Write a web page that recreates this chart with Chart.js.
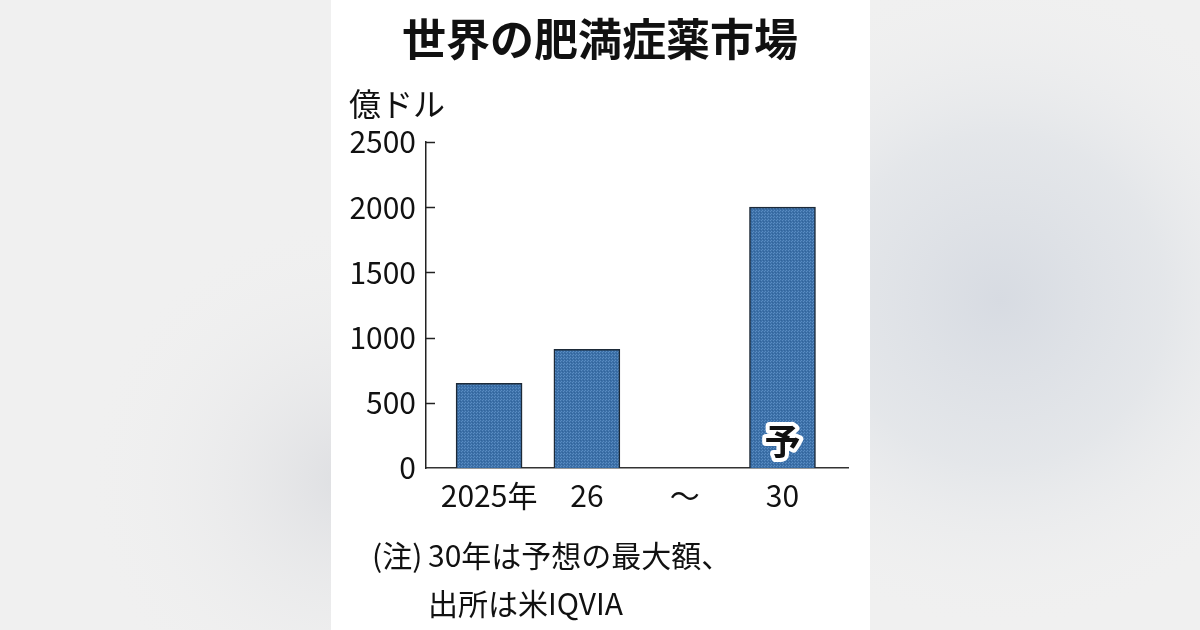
<!DOCTYPE html>
<html>
<head>
<meta charset="utf-8">
<script src="https://cdn.jsdelivr.net/npm/chart.js@4.4.1/dist/chart.umd.min.js"></script>
<style>
  html, body { margin: 0; padding: 0; background: #efefef; }
  canvas { display: block; }
</style>
</head>
<body>
<canvas id="chart" width="1200" height="630"></canvas>
<script>
var categories = ['2025年', '26', '〜', '30'];
var values = [650, 910, null, 2000];
var barNotes = [null, null, null, '予'];
var yTicks = [0, 500, 1000, 1500, 2000, 2500];

var titleText = '世界の肥満症薬市場';
var unitText = '億ドル';
var noteLines = ['30年は予想の最大額、', '出所は米IQVIA'];

Chart.defaults.font.family = '"Noto Sans CJK JP", "Noto Sans", sans-serif';
Chart.defaults.color = '#111';

// dotted blue fill like the print texture
function barPattern() {
  var c = document.createElement('canvas');
  c.width = 3; c.height = 3;
  var g = c.getContext('2d');
  g.fillStyle = '#3c70a8';
  g.fillRect(0, 0, 3, 3);
  g.fillStyle = '#5a8cc2';
  g.fillRect(0, 0, 1, 1);
  g.fillRect(2, 1, 1, 1);
  g.fillStyle = '#32649b';
  g.fillRect(1, 2, 1, 1);
  return g.createPattern(c, 'repeat');
}

var decor = {
  id: 'decor',
  beforeDraw: function(chart) {
    var ctx = chart.ctx;
    ctx.save();
    ctx.fillStyle = '#f0f0f0';
    ctx.fillRect(0, 0, 1200, 630);
    var g1 = ctx.createRadialGradient(1000, 300, 0, 1000, 300, 330);
    g1.addColorStop(0, 'rgba(215,219,226,1)');
    g1.addColorStop(0.5, 'rgba(225,228,232,0.8)');
    g1.addColorStop(1, 'rgba(240,240,240,0)');
    ctx.fillStyle = g1;
    ctx.fillRect(860, 0, 340, 630);
    var g2 = ctx.createRadialGradient(345, 480, 0, 345, 480, 260);
    g2.addColorStop(0, 'rgba(222,223,226,1)');
    g2.addColorStop(1, 'rgba(240,240,240,0)');
    ctx.fillStyle = g2;
    ctx.fillRect(0, 0, 340, 630);
    ctx.fillStyle = '#ffffff';
    ctx.fillRect(331, 0, 539, 630);

    ctx.fillStyle = '#111';
    ctx.textBaseline = 'middle';
    ctx.textAlign = 'center';
    ctx.font = 'bold 44px "Noto Sans CJK JP"';
    ctx.fillText(titleText, 600, 39);
    ctx.textAlign = 'left';
    ctx.font = '32px "Noto Sans CJK JP"';
    ctx.fillText(unitText, 349, 104);
    ctx.font = '30px "Noto Sans CJK JP"';
    ctx.fillText('(注)', 372, 556);
    ctx.fillText(noteLines[0], 428, 556);
    ctx.fillText(noteLines[1], 428, 604);
    ctx.restore();
  },
  afterDraw: function(chart) {
    var ctx = chart.ctx;
    var y = chart.scales.y;
    ctx.save();
    ctx.strokeStyle = '#222';
    ctx.lineWidth = 1.5;
    yTicks.forEach(function(v) {
      if (v === 0) return;
      var py = Math.round(y.getPixelForValue(v)) + 0.5;
      ctx.beginPath();
      ctx.moveTo(y.right, py);
      ctx.lineTo(y.right + 9, py);
      ctx.stroke();
    });
    var meta = chart.getDatasetMeta(0);
    ctx.font = 'bold 36px "Noto Sans CJK JP"';
    ctx.textAlign = 'center';
    ctx.textBaseline = 'middle';
    ctx.lineJoin = 'round';
    barNotes.forEach(function(t, i) {
      if (!t) return;
      var bar = meta.data[i];
      ctx.strokeStyle = '#fff';
      ctx.lineWidth = 8;
      ctx.strokeText(t, bar.x, bar.base - 27);
      ctx.fillStyle = '#111';
      ctx.fillText(t, bar.x, bar.base - 27);
    });
    ctx.restore();
  }
};

var chart = new Chart('chart', {
  type: 'bar',
  data: {
    datasets: [{
      data: values.map(function(v, i) { return {x: i, y: v}; }),
      backgroundColor: barPattern(),
      borderColor: '#1d2a38',
      borderWidth: 1.5,
      barThickness: 66
    }]
  },
  options: {
    responsive: false,
    animation: false,
    devicePixelRatio: 1,
    layout: { padding: { left: 340, right: 352, top: 142, bottom: 100 } },
    plugins: {
      legend: { display: false },
      tooltip: { enabled: false }
    },
    scales: {
      x: {
        type: 'linear',
        offset: false,
        min: -0.645,
        max: 3.67,
        grid: { display: false, drawTicks: false },
        border: { display: true, color: '#333', width: 1.5 },
        afterBuildTicks: function(s) {
          s.ticks = categories.map(function(c, i) { return {value: i}; });
        },
        afterFit: function(s) { s.height = 62; },
        ticks: {
          padding: 10,
          font: { size: 30 },
          color: '#111',
          maxRotation: 0,
          autoSkip: false,
          callback: function(v) { return categories[v]; }
        }
      },
      y: {
        min: 0,
        max: 2500,
        grid: { display: false, drawTicks: false },
        border: { display: true, color: '#222', width: 1.5 },
        afterBuildTicks: function(s) {
          s.ticks = yTicks.map(function(v) { return {value: v}; });
        },
        afterFit: function(s) { s.width = 86; },
        ticks: {
          padding: 10,
          font: { size: 30 },
          color: '#111',
          callback: function(v) { return String(v); }
        }
      }
    }
  },
  plugins: [decor]
});
</script>
</body>
</html>
